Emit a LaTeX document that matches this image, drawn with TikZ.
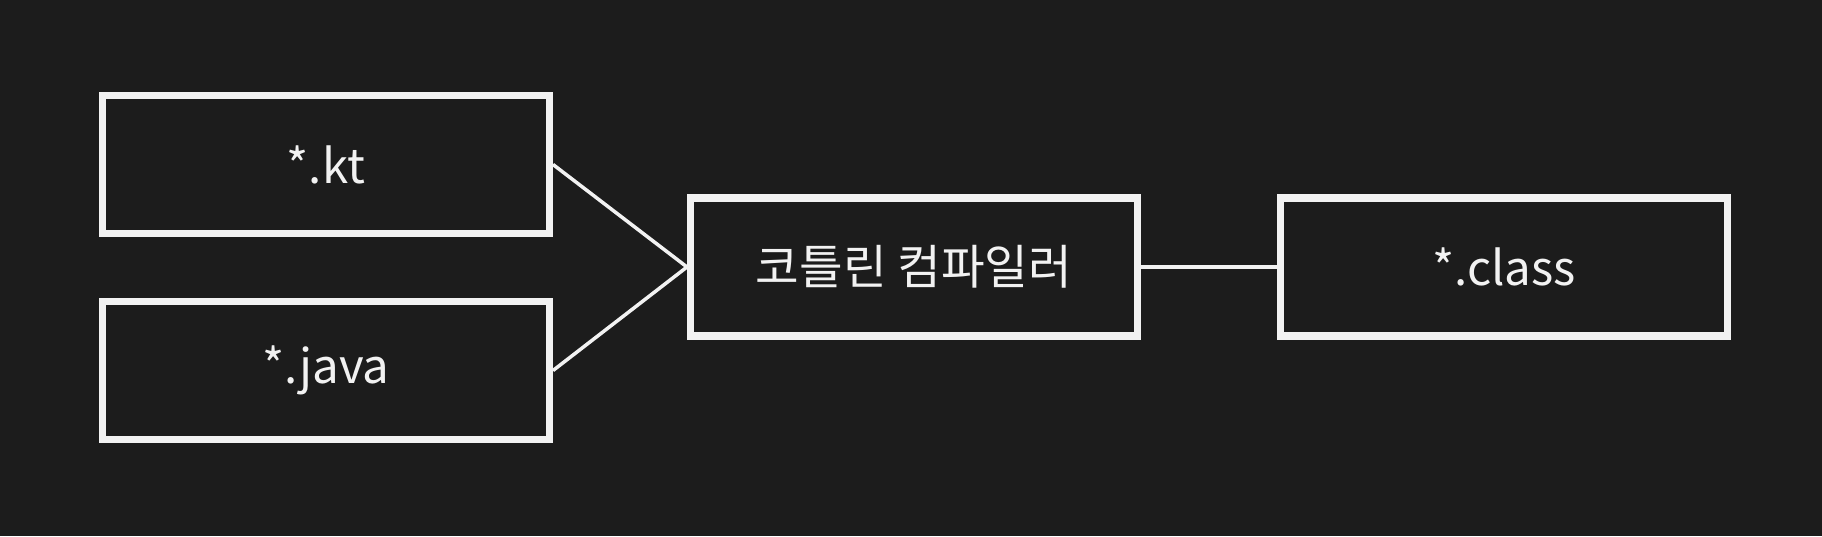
\documentclass[tikz,border=0pt]{standalone}
\usepackage{fontspec}
\setmainfont{Noto Sans CJK KR}
\usetikzlibrary{positioning}
\definecolor{bgdark}{RGB}{28,28,28}
\definecolor{fgwhite}{RGB}{242,242,242}
\tikzset{filebox/.style={draw=fgwhite, line width=2pt, fill=bgdark, text=fgwhite,
  minimum width=4.47cm, minimum height=1.38cm, inner sep=0pt, font=\fontsize{13.5}{16}\selectfont}}
\tikzset{link/.style={draw=fgwhite, line width=1pt}}

\begin{document}
\begin{tikzpicture}
\fill[bgdark] (0,0) rectangle (18.22,5.36);
\begin{scope}[on grid]
\node[filebox] (kt) at (3.26, 3.715) {*.kt};
\node[filebox] (java) [below = 2.06 of kt] {*.java};
\node[filebox] (kotlinc) at (9.14, 2.69) {코틀린 컴파일러};
\node[filebox] (class) [right = 5.9 of kotlinc] {*.class};

\draw[link] (kt.east) -- (kotlinc.west);
\draw[link] (java.east) -- (kotlinc.west);
\draw[link] (kotlinc) -- (class);
\end{scope}
\end{tikzpicture}
\end{document}
